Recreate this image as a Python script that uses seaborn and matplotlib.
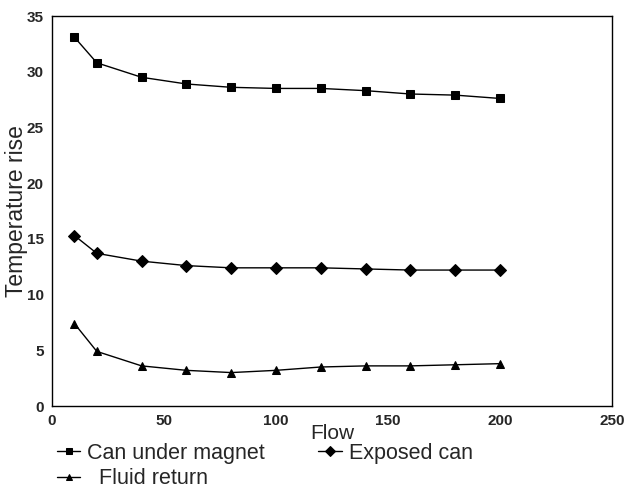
import pandas as pd
import matplotlib.pyplot as plt
import seaborn as sns

flow = [10, 20, 40, 60, 80, 100, 120, 140, 160, 180, 200]
can_under_magnet = [33.1, 30.8, 29.5, 28.9, 28.6, 28.5, 28.5, 28.3, 28.0, 27.9, 27.6]
exposed_can = [15.3, 13.7, 13.0, 12.6, 12.4, 12.4, 12.4, 12.3, 12.2, 12.2, 12.2]
fluid_return = [7.4, 4.9, 3.6, 3.2, 3.0, 3.2, 3.5, 3.6, 3.6, 3.7, 3.8]

series_names = ["Can under magnet", "Exposed can", "  Fluid return"]
x_ticks = [0, 50, 100, 150, 200, 250]
y_ticks = [0, 5, 10, 15, 20, 25, 30, 35]


def make_plot():
    sns.set_theme(style="white")
    plt.rcParams['font.family'] = ['Liberation Sans', 'DejaVu Sans']

    # long-form table for seaborn
    frames = []
    for name, vals in zip(series_names, [can_under_magnet, exposed_can, fluid_return]):
        frames.append(pd.DataFrame({'Flow': flow, 'rise': vals, 'series': name}))
    df = pd.concat(frames, ignore_index=True)

    fig = plt.figure(figsize=(6.24, 4.9), dpi=100)
    ax = fig.add_axes([52 / 624, 1 - 406 / 490, 560 / 624, 390 / 490])

    sns.lineplot(ax=ax, data=df, x='Flow', y='rise', hue='series', style='series',
                 palette=['black'] * 3, markers=['s', 'D', '^'], dashes=False,
                 linewidth=1.0, markersize=6, markeredgecolor='black', legend=True)

    ax.set_xlim(0, 250)
    ax.set_ylim(0, 35)
    ax.set_xticks(x_ticks)
    ax.set_yticks(y_ticks)
    ax.tick_params(direction='in', length=5, width=1, color='black', labelsize=11,
                   pad=6)
    for lbl in ax.get_xticklabels() + ax.get_yticklabels():
        lbl.set_fontweight('bold')
    for sp in ax.spines.values():
        sp.set_color('black')
        sp.set_linewidth(1.0)

    ax.set_xlabel('Flow', fontsize=15, labelpad=-3)
    ax.set_ylabel('Temperature rise', fontsize=16.5, labelpad=-1)

    handles, labels = ax.get_legend_handles_labels()
    ax.get_legend().remove()
    for h in handles:
        h.set_markersize(5)
    # legend fills column-wise, so reorder to get row 1: first two series
    order = [0, 2, 1]
    fig.legend([handles[i] for i in order], [labels[i] for i in order],
               loc='upper left', bbox_to_anchor=(46 / 624, 1 - 432 / 490),
               ncol=2, frameon=False, fontsize=15.5, handlelength=1.1, handletextpad=0.3,
               columnspacing=2.5, labelspacing=0.2, borderpad=0)

    fig.savefig('out.png', dpi=100)


if __name__ == "__main__":
    make_plot()
